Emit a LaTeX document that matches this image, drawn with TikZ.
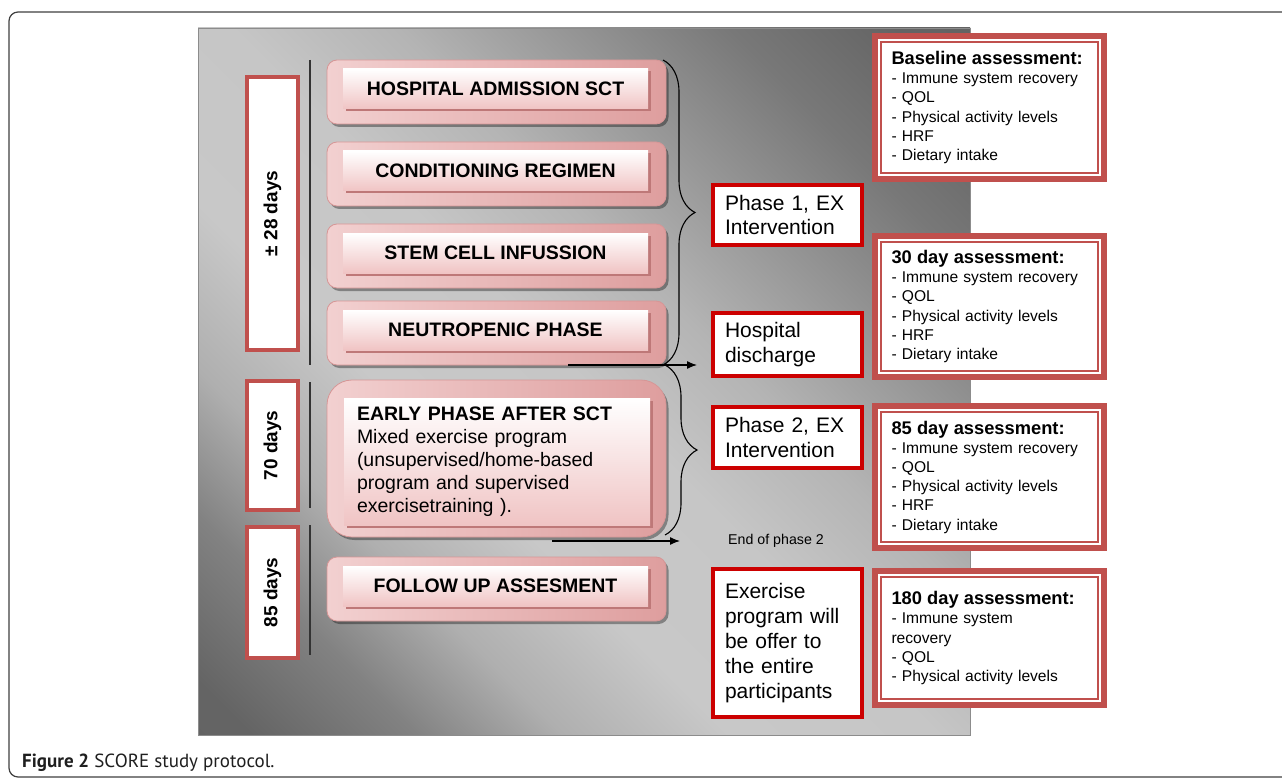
\documentclass[tikz,border=0pt]{standalone}
\usepackage{fontspec}
\setmainfont{Liberation Sans}
\newfontfamily\capfont{PT Sans}
\usetikzlibrary{shadows,decorations.pathreplacing,arrows.meta}

\definecolor{dayred}{RGB}{192,80,77}
\definecolor{boxred}{RGB}{204,0,0}
\definecolor{pinkL}{RGB}{242,208,208}
\definecolor{pinkR}{RGB}{222,158,158}
\definecolor{pinkEdge}{RGB}{214,150,150}
\definecolor{innerbot}{RGB}{240,196,196}
\definecolor{innershadow}{RGB}{190,120,120}
\definecolor{g96}{RGB}{96,96,96}
\definecolor{g100}{RGB}{100,100,100}
\definecolor{g130}{RGB}{130,130,130}
\definecolor{g175}{RGB}{175,175,175}
\definecolor{g200}{RGB}{200,200,200}
\definecolor{g198}{RGB}{198,198,198}
\definecolor{g180}{RGB}{180,180,180}
\definecolor{g150}{RGB}{150,150,150}
\definecolor{g120}{RGB}{120,120,120}

\pgfdeclareverticalshading{panelshade}{100bp}{color(0bp)=(g96); color(17bp)=(g100); color(25bp)=(g130); color(32bp)=(g175); color(40bp)=(g200); color(50bp)=(g198); color(58bp)=(g180); color(66bp)=(g150); color(74bp)=(g120); color(82bp)=(g100); color(100bp)=(g96)}

\tikzset{
  daybox/.style={draw=dayred, line width=4pt, fill=white, minimum width=51pt, inner sep=0pt, outer sep=0pt,
    font=\bfseries\fontsize{19}{22}\selectfont},
  stageouter/.style={rounded corners=10pt, left color=pinkL, right color=pinkR, draw=pinkEdge, line width=0.8pt,
    drop shadow={shadow xshift=2.5pt, shadow yshift=-3pt, opacity=0.35, fill=black},
    minimum width=339pt, minimum height=64pt, inner sep=0pt, outer sep=0pt},
  stageinner/.style={top color=white, bottom color=innerbot, draw=none, minimum width=305pt, minimum height=40pt,
    inner sep=0pt, outer sep=0pt,
    drop shadow={shadow xshift=2.5pt, shadow yshift=-2.5pt, fill=innershadow, opacity=1},
    font=\bfseries\fontsize{19.5}{23}\selectfont},
  redbox/.style={draw=boxred, line width=4pt, fill=white, text width=125pt, align=left, inner xsep=12pt,
    inner ysep=0pt, outer sep=0pt, font=\fontsize{21}{24.5}\selectfont},
  asmbox/.style={draw=dayred, line width=6pt, fill=white, text width=196pt, inner xsep=16.5pt, inner ysep=0pt,
    align=left, outer sep=0pt, font=\fontsize{15.6}{19.2}\selectfont},
  asmline/.style={draw=dayred, line width=1.2pt},
  bracestyle/.style={decorate, line width=1.1pt, black},
  arrowstyle/.style={line width=1.3pt, -{Latex[length=10pt,width=8pt]}},
  tick/.style={line width=1.3pt, black!80}
}

\newcommand{\asmhead}[1]{{\bfseries\fontsize{18.3}{20}\selectfont\mbox{#1}}}

\begin{document}
\begin{tikzpicture}[x=1pt,y=-1pt]
\useasboundingbox (0,0) rectangle (1282,778);
\clip (0,0) rectangle (1282,778);
\fill[white] (0,0) rectangle (1282,778);

% outer frame
\draw[line width=1.2pt, black!75, rounded corners=9pt] (1300,12) -- (9,12) -- (9,777) -- (1300,777);

% gray panel
\path[draw=black!45, line width=0.8pt, shading=panelshade, shading angle=-45] (198,28) rectangle (970,735);

% day boxes
\node[daybox, minimum height=273pt] (d1) at (272.5,213.5) {\rotatebox{90}{± 28 days}};
\node[daybox, minimum height=129pt] (d2) at (272.5,445.5) {\rotatebox{90}{70 days}};
\node[daybox, minimum height=131pt] (d3) at (272.5,592.5) {\rotatebox{90}{85 days}};

% separator lines
\draw[tick] (310,60) -- (310,365);
\draw[tick] (310,382) -- (310,508);
\draw[tick] (310,525) -- (310,655);

% stage boxes
\node[stageouter] (s1) at (496.5,92) {};
\node[stageinner] (t1) at (495.5,89) {HOSPITAL ADMISSION SCT};
\node[stageouter] (s2) at (496.5,174) {};
\node[stageinner] (t2) at (495.5,171) {CONDITIONING REGIMEN};
\node[stageouter] (s3) at (496.5,256) {};
\node[stageinner] (t3) at (495.5,253) {STEM CELL INFUSSION};
\node[stageouter] (s4) at (496.5,333) {};
\node[stageinner] (t4) at (495.5,330) {NEUTROPENIC PHASE};
\node[stageouter, rounded corners=25pt, minimum height=157pt] (s5) at (496.5,458.5) {};
\node[stageinner, minimum width=306pt, minimum height=127pt, text width=280pt, align=left, inner xsep=13pt,
  font=\fontsize{19.5}{23}\selectfont] (t5) at (497,461.5)
  {\textbf{EARLY PHASE AFTER SCT}\\Mixed exercise program\\(unsupervised/home-based\\program and supervised\\exercisetraining ).};
\node[stageouter] (s6) at (496.5,589) {};
\node[stageinner] (t6) at (495.5,586) {FOLLOW UP ASSESMENT};

% braces and arrows
\coordinate (b1a) at (663,60);
\coordinate (b1b) at (663,365);
\coordinate (b2a) at (665,365);
\coordinate (b2b) at (665,535);
\draw[bracestyle, decoration={brace, amplitude=32pt}] (b1a) -- (b1b);
\draw[bracestyle, decoration={brace, amplitude=32pt}] (b2a) -- (b2b);
\coordinate (ar1s) at (568,365);
\coordinate (ar1e) at (697,365);
\coordinate (ar2s) at (552,541);
\coordinate (ar2e) at (680,541);
\draw[arrowstyle] (ar1s) -- (ar1e);
\draw[arrowstyle] (ar2s) -- (ar2e);

% red boxes
\node[redbox, minimum height=60pt] (r1) at (787.5,215) {Phase 1, EX\\Intervention};
\node[redbox, minimum height=63pt] (r2) at (787.5,344.5) {Hospital\\discharge};
\node[redbox, minimum height=61pt] (r3) at (787.5,437.5) {Phase 2, EX\\Intervention};
\node[redbox, minimum height=148pt, font=\fontsize{21}{25}\selectfont] (r4) at (787.5,643)
  {Exercise\\program will\\be offer to\\the entire\\participants};
\node[font=\fontsize{14.2}{17}\selectfont] (eop) at (776,541) {End of phase 2};

% assessment boxes
\node[asmbox, minimum height=143pt] (a1) at (989.5,107.5)
  {\asmhead{Baseline assessment:}\\- Immune system recovery\\- QOL\\- Physical activity levels\\- HRF\\- Dietary intake};
\node[asmbox, minimum height=141pt] (a2) at (989.5,306.5)
  {\asmhead{30 day assessment:}\\- Immune system recovery\\- QOL\\- Physical activity levels\\- HRF\\- Dietary intake};
\node[asmbox, minimum height=142pt] (a3) at (989.5,477)
  {\asmhead{85 day assessment:}\\- Immune system recovery\\- QOL\\- Physical activity levels\\- HRF\\- Dietary intake};
\node[asmbox, minimum height=134pt] (a4) at (989.5,638)
  {\asmhead{180 day assessment:}\\- Immune system\\recovery\\- QOL\\- Physical activity levels};
\foreach \b in {a1,a2,a3,a4}{
  \draw[asmline] ([shift={(6,6)}]\b.north west) rectangle ([shift={(-6,-6)}]\b.south east);
}

% caption
\node[anchor=base west, inner sep=0pt, font=\capfont\fontsize{19}{22}\selectfont, text=black!88] (cap) at (22,767)
  {\textbf{Figure 2} SCORE study protocol.};
\end{tikzpicture}
\end{document}
